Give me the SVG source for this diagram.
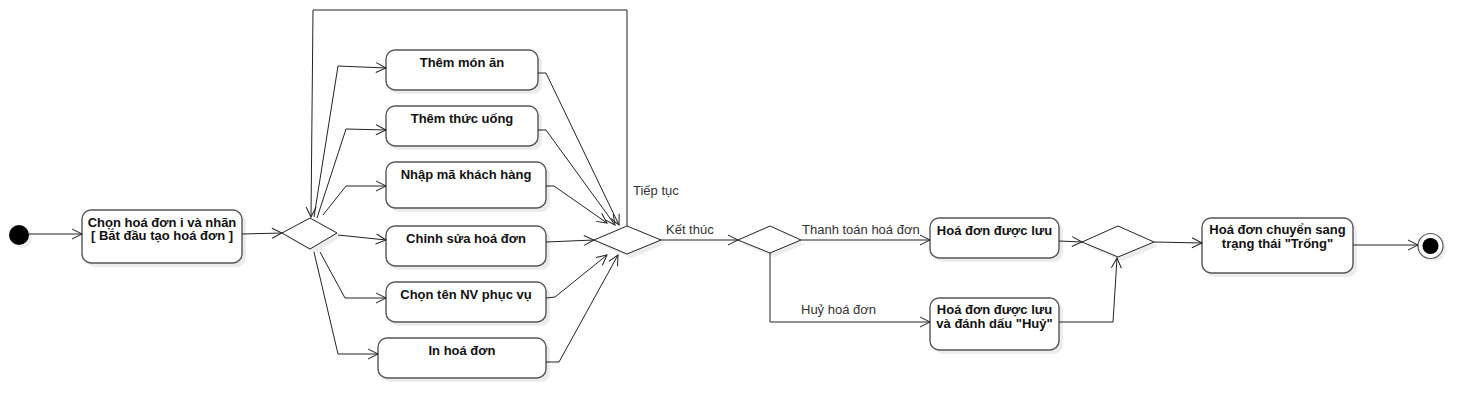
<svg xmlns="http://www.w3.org/2000/svg" width="1483" height="418" viewBox="0 0 1483 418">
<defs>
<marker id="arr" markerUnits="userSpaceOnUse" markerWidth="12" markerHeight="12" refX="11" refY="6" orient="auto">
<path d="M1,1 L11,6 L1,11" fill="none" stroke="#222" stroke-width="1"/>
</marker>
</defs>
<style>
.box{fill:#fff;stroke:#555;stroke-width:1.4}
.sh{fill:#ececec;stroke:none}
.dia{fill:#fff;stroke:#222;stroke-width:1}
.t{font-family:"Liberation Sans",Arial,sans-serif;font-size:13px;font-weight:bold;fill:#111;text-anchor:middle}
.lb{font-family:"Liberation Sans",Arial,sans-serif;font-size:13px;fill:#333}
.c{fill:none;stroke:#222;stroke-width:1;marker-end:url(#arr)}
.cn{fill:none;stroke:#222;stroke-width:1}
</style>
<rect width="1483" height="418" fill="#fff"/>

<g id="start">
<circle cx="22" cy="238" r="10" fill="#eee"/>
<circle cx="19" cy="235" r="10" fill="#000"/>
</g>

<g id="n_chon">
<rect class="sh" x="86" y="214" width="160" height="53" rx="9"/>
<rect class="box" x="82" y="210" width="160" height="53" rx="9"/>
<text class="t" x="162" y="227">Chọn hoá đơn i và nhãn</text>
<text class="t" x="162" y="240">[ Bắt đầu tạo hoá đơn ]</text>
</g>

<g id="d1">
<polygon class="sh" points="286,237 314,222 341,237 314,253"/>
<polygon class="dia" points="282,233 310,218 337,233 310,249"/>
</g>

<g id="n_mon">
<rect class="sh" x="390" y="54" width="152" height="40" rx="9"/>
<rect class="box" x="386" y="50" width="152" height="40" rx="9"/>
<text class="t" x="462" y="67">Thêm món ăn</text>
</g>
<g id="n_uong">
<rect class="sh" x="390" y="110" width="152" height="40" rx="9"/>
<rect class="box" x="386" y="106" width="152" height="40" rx="9"/>
<text class="t" x="462" y="123">Thêm thức uống</text>
</g>
<g id="n_ma">
<rect class="sh" x="390" y="166" width="160" height="46" rx="9"/>
<rect class="box" x="386" y="162" width="160" height="46" rx="9"/>
<text class="t" x="466" y="179">Nhập mã khách hàng</text>
</g>
<g id="n_sua">
<rect class="sh" x="390" y="230" width="160" height="40" rx="9"/>
<rect class="box" x="386" y="226" width="160" height="40" rx="9"/>
<text class="t" x="466" y="243">Chỉnh sửa hoá đơn</text>
</g>
<g id="n_nv">
<rect class="sh" x="390" y="286" width="160" height="40" rx="9"/>
<rect class="box" x="386" y="282" width="160" height="40" rx="9"/>
<text class="t" x="466" y="299">Chọn tên NV phục vụ</text>
</g>
<g id="n_in">
<rect class="sh" x="382" y="342" width="168" height="40" rx="9"/>
<rect class="box" x="378" y="338" width="168" height="40" rx="9"/>
<text class="t" x="462" y="355">In hoá đơn</text>
</g>

<g id="d2">
<polygon class="sh" points="598,244 631,230 665,244 631,258"/>
<polygon class="dia" points="594,240 627,226 661,240 627,254"/>
</g>

<g id="d3">
<polygon class="sh" points="742,244 774,230 805,244 774,257"/>
<polygon class="dia" points="738,240 770,226 801,240 770,253"/>
</g>

<g id="n_luu">
<rect class="sh" x="934" y="222" width="129" height="40" rx="9"/>
<rect class="box" x="930" y="218" width="129" height="40" rx="9"/>
<text class="t" x="994.500" y="235">Hoá đơn được lưu</text>
</g>
<g id="n_huy">
<rect class="sh" x="934" y="302" width="129" height="52" rx="9"/>
<rect class="box" x="930" y="298" width="129" height="52" rx="9"/>
<text class="t" x="994.500" y="314">Hoá đơn được lưu</text>
<text class="t" x="994.500" y="328">và đánh dấu "Huỷ"</text>
</g>

<g id="d4">
<polygon class="sh" points="1086,246 1122,230 1158,246 1122,261"/>
<polygon class="dia" points="1082,242 1118,226 1154,242 1118,257"/>
</g>

<g id="n_trong">
<rect class="sh" x="1206" y="222" width="151" height="55" rx="9"/>
<rect class="box" x="1202" y="218" width="151" height="55" rx="9"/>
<text class="t" x="1277.500" y="234">Hoá đơn chuyển sang</text>
<text class="t" x="1277.500" y="247.500">trạng thái "Trống"</text>
</g>

<g id="end">
<circle cx="1434" cy="249" r="12.500" fill="#eee"/>
<circle cx="1430.500" cy="246" r="12.500" fill="#fff" stroke="#555" stroke-width="1.2"/>
<circle cx="1430.500" cy="246" r="8" fill="#000"/>
</g>

<g id="connectors">
<path class="c" d="M29,234 L82,234"/>
<path class="c" d="M242,234 L282,233"/>
<path class="c" d="M314,217 L338,66 L386,68"/>
<path class="c" d="M317,218 L346,129 L386,130"/>
<path class="c" d="M323,215 L346,186 L386,186"/>
<path class="c" d="M338,235 L386,240"/>
<path class="c" d="M320,252 L345,298 L386,298"/>
<path class="c" d="M314,252 L338,354 L378,354"/>
<path class="c" d="M538,73 L546,73 L619,225"/>
<path class="c" d="M538,130 L546,130 L615,225"/>
<path class="c" d="M546,186 L554,186 L607,223"/>
<path class="c" d="M546,242 L594,240"/>
<path class="c" d="M546,298 L555,297 L607,255"/>
<path class="c" d="M546,362 L559,362 L618,255"/>
<path class="c" d="M627,226 L627,10 L313,10 L311,217"/>
<path class="c" d="M661,240 L738,240"/>
<path class="c" d="M801,240 L930,240"/>
<path class="c" d="M770,253 L770,322 L930,322"/>
<path class="c" d="M1059,241 L1082,242"/>
<path class="c" d="M1059,322 L1113,322 L1117,258"/>
<path class="c" d="M1154,242 L1202,243"/>
<path class="c" d="M1353,245 L1418,245"/>
<text class="lb" x="633" y="195">Tiếp tục</text>
<text class="lb" x="666" y="234">Kết thúc</text>
<text class="lb" x="802" y="234">Thanh toán hoá đơn</text>
<text class="lb" x="801" y="314">Huỷ hoá đơn</text>
</g>
</svg>
